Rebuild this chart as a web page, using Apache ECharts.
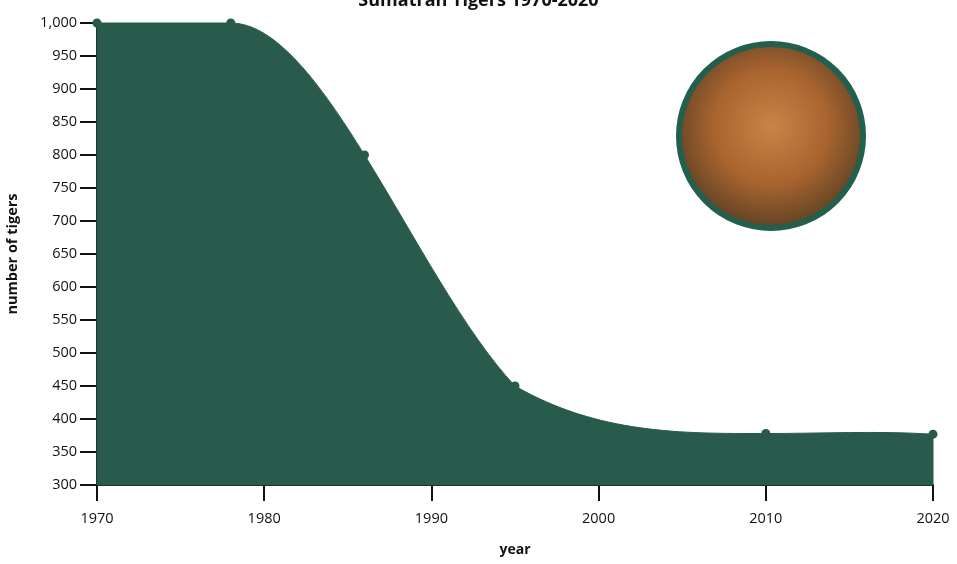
<!DOCTYPE html>
<html>
<head>
<meta charset="utf-8">
<script src="https://cdn.jsdelivr.net/npm/echarts@6/dist/echarts.min.js"></script>
<style>
html, body { margin: 0; padding: 0; background: #fff; }
#main { width: 957px; height: 564px; }
</style>
</head>
<body>
<div id="main"></div>
<script>
var years = [1970, 1978, 1986, 1995, 2010, 2020];
var tigers = [1000, 1000, 800, 450, 378, 377];
var xTicks = [1970, 1980, 1990, 2000, 2010, 2020];

var green = '#285b4c';
var font = 'Open Sans';
var baseValue = 300;

var seriesData = [];
for (var i = 0; i < years.length; i++) {
    seriesData.push([years[i], tigers[i]]);
}

// cubic spline tangents (pixel space); flat at ends of flat runs / turns
function splineTangents(pts) {
    var n = pts.length, h = [], d = [], i, j, k;
    for (i = 0; i < n - 1; i++) {
        h.push(pts[i + 1][0] - pts[i][0]);
        d.push((pts[i + 1][1] - pts[i][1]) / h[i]);
    }
    var A = [], b = [], fixed = [];
    for (i = 0; i < n; i++) {
        A.push(new Array(n).fill(0));
        if (i == 0) fixed.push(d[0] == 0);
        else if (i == n - 1) fixed.push(d[n - 2] == 0);
        else fixed.push(d[i - 1] * d[i] <= 0);
        if (fixed[i]) {
            A[i][i] = 1; b.push(0);
        } else if (i == 0) {
            A[i][0] = 2; A[i][1] = 1; b.push(3 * d[0]);
        } else if (i == n - 1) {
            A[i][n - 2] = 1; A[i][n - 1] = 2; b.push(3 * d[n - 2]);
        } else {
            A[i][i - 1] = h[i];
            A[i][i] = 2 * (h[i - 1] + h[i]);
            A[i][i + 1] = h[i - 1];
            b.push(3 * (h[i] * d[i - 1] + h[i - 1] * d[i]));
        }
    }
    for (k = 0; k < n; k++) {
        for (i = k + 1; i < n; i++) {
            var f = A[i][k] / A[k][k];
            if (!f) continue;
            for (j = k; j < n; j++) A[i][j] -= f * A[k][j];
            b[i] -= f * b[k];
        }
    }
    var m = new Array(n).fill(0);
    for (i = n - 1; i >= 0; i--) {
        var s = b[i];
        for (j = i + 1; j < n; j++) s -= A[i][j] * m[j];
        m[i] = s / A[i][i];
    }
    for (i = 1; i < n - 1; i++) {
        if (m[i] * d[i - 1] < 0 || m[i] * d[i] < 0) m[i] = 0;
    }
    return { m: m, h: h };
}

function curvePath(pts) {
    var t = splineTangents(pts);
    var topY = Infinity, botY = -Infinity;
    for (var k = 0; k < pts.length; k++) {
        topY = Math.min(topY, pts[k][1]);
        botY = Math.max(botY, pts[k][1]);
    }
    function clampY(y) { return Math.min(botY, Math.max(topY, y)); }
    var d = 'M' + pts[0][0] + ' ' + pts[0][1];
    for (var i = 0; i < pts.length - 1; i++) {
        var h3 = t.h[i] / 3;
        var c1x = pts[i][0] + h3, c1y = clampY(pts[i][1] + t.m[i] * h3);
        var c2x = pts[i + 1][0] - h3, c2y = clampY(pts[i + 1][1] - t.m[i + 1] * h3);
        d += ' C' + c1x + ' ' + c1y + ' ' + c2x + ' ' + c2y + ' ' + pts[i + 1][0] + ' ' + pts[i + 1][1];
    }
    return d;
}

var myChart = echarts.init(document.getElementById('main'));
var option = {
    animation: false,
    title: {
        text: 'Sumatran Tigers 1970-2020',
        left: 'center',
        top: -13,
        textStyle: { fontFamily: font, fontSize: 18, fontWeight: 'bold', color: '#111' }
    },
    grid: { left: 97, right: 24, top: 23, bottom: 79, outerBoundsMode: 'none' },
    xAxis: {
        type: 'value',
        min: 1970,
        max: 2020,
        interval: 10,
        name: 'year',
        nameLocation: 'middle',
        nameGap: 58,
        nameTextStyle: { fontFamily: font, fontSize: 14, fontWeight: 'bold', color: '#111' },
        axisLine: { lineStyle: { color: '#111', width: 2 } },
        axisTick: { show: true, length: 16, lineStyle: { color: '#111', width: 2 } },
        axisLabel: {
            fontFamily: font, fontSize: 14.5, color: '#111', margin: 26,
            formatter: function (v) { return String(v); }
        },
        splitLine: { show: false }
    },
    yAxis: {
        type: 'value',
        min: 300,
        max: 1000,
        interval: 50,
        name: 'number of tigers',
        nameLocation: 'middle',
        nameGap: 77,
        nameTextStyle: { fontFamily: font, fontSize: 14.5, fontWeight: 'bold', color: '#111' },
        axisLine: { show: true, lineStyle: { color: '#111', width: 2 } },
        axisTick: { show: true, length: 17, lineStyle: { color: '#111', width: 2 } },
        axisLabel: {
            fontFamily: font, fontSize: 14.5, color: '#111', margin: 20,
            formatter: function (v) { return v.toLocaleString('en-US'); }
        },
        splitLine: { show: false }
    },
    series: [{
        type: 'custom',
        data: seriesData,
        z: 1,
        renderItem: function (params, api) {
            if (params.dataIndex !== 0) return null;
            var pts = [];
            for (var i = 0; i < years.length; i++) {
                pts.push(api.coord([years[i], tigers[i]]));
            }
            var b0 = api.coord([years[0], baseValue]);
            var b1 = api.coord([years[years.length - 1], baseValue]);
            var d = curvePath(pts) + ' L' + b1[0] + ' ' + b1[1] + ' L' + b0[0] + ' ' + b0[1] + ' Z';
            return {
                type: 'path',
                shape: { pathData: d },
                style: { fill: green, stroke: green, lineWidth: 1 }
            };
        }
    }, {
        type: 'scatter',
        data: seriesData,
        symbol: 'circle',
        symbolSize: 9,
        itemStyle: { color: green, opacity: 1 },
        z: 2
    }],
    graphic: [{
        type: 'circle',
        shape: { cx: 771, cy: 136, r: 92 },
        style: {
            fill: {
                type: 'radial', x: 0.5, y: 0.45, r: 0.6,
                colorStops: [
                    { offset: 0, color: '#c98446' },
                    { offset: 0.5, color: '#a9642f' },
                    { offset: 1, color: '#4e3a22' }
                ]
            },
            stroke: '#225f4d',
            lineWidth: 6
        }
    }]
};
myChart.setOption(option);
</script>
</body>
</html>
